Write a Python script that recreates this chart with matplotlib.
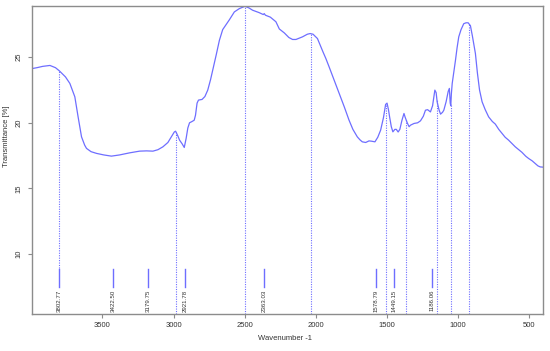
import numpy as np
import matplotlib
matplotlib.use("Agg")
import matplotlib.pyplot as plt

plt.rcParams["font.family"] = ["Liberation Sans", "DejaVu Sans"]

# FTIR spectrum
wavenumber = [4000, 3960, 3920, 3869, 3830, 3803, 3760, 3729, 3694, 3671, 3647, 3625,
              3612, 3580, 3542, 3490, 3437, 3380, 3309, 3239, 3190, 3145, 3110, 3075,
              3040, 3016, 2995, 2986, 2970, 2958, 2940, 2925, 2912, 2900, 2888, 2870,
              2855, 2846, 2835, 2825, 2800, 2780, 2760, 2740, 2725, 2700, 2678, 2655,
              2630, 2608, 2573, 2538, 2498, 2470, 2445, 2400, 2370, 2363, 2355, 2320,
              2281, 2257, 2222, 2190, 2164, 2140, 2094, 2060, 2040, 2020, 1989, 1977,
              1950, 1930, 1907, 1870, 1837, 1800, 1767, 1740, 1709, 1690, 1674, 1650,
              1627, 1610, 1585, 1565, 1545, 1525, 1510, 1500, 1490, 1482, 1470, 1459,
              1445, 1435, 1422, 1410, 1395, 1381, 1372, 1358, 1345, 1335, 1310, 1285,
              1265, 1245, 1230, 1215, 1195, 1180, 1164, 1155, 1148, 1135, 1124, 1110,
              1101, 1085, 1070, 1062, 1056, 1052, 1048, 1042, 1030, 1019, 1008, 996,
              980, 961, 945, 930, 914, 900, 879, 865, 850, 832, 810, 786, 760, 739,
              715, 692, 670, 646, 620, 599, 575, 552, 525, 505, 480, 459, 440, 424, 404]
transmittance = [24.12, 24.2, 24.3, 24.37, 24.2, 23.96, 23.5, 23.0, 21.98, 20.45, 18.93, 18.3,
                 18.05, 17.8, 17.67, 17.55, 17.46, 17.55, 17.71, 17.84, 17.86, 17.84, 17.95, 18.17,
                 18.5, 18.93, 19.3, 19.36, 19.0, 18.68, 18.4, 18.12, 18.8, 19.6, 20.0, 20.1,
                 20.2, 20.58, 21.5, 21.73, 21.78, 22.0, 22.49, 23.3, 24.0, 25.2, 26.29, 27.1,
                 27.5, 27.85, 28.45, 28.7, 28.88, 28.75, 28.58, 28.4, 28.25, 28.32, 28.2, 28.05,
                 27.7, 27.15, 26.85, 26.5, 26.35, 26.35, 26.55, 26.75, 26.8, 26.75, 26.42, 26.1,
                 25.4, 24.9, 24.26, 23.2, 22.24, 21.2, 20.2, 19.5, 18.93, 18.7, 18.55, 18.5,
                 18.62, 18.6, 18.55, 18.9, 19.44, 20.4, 21.4, 21.5, 21.0, 20.45, 19.7, 19.31,
                 19.5, 19.5, 19.3, 19.5, 20.2, 20.71, 20.4, 20.0, 19.7, 19.82, 19.95, 20.0,
                 20.15, 20.5, 20.96, 21.0, 20.83, 21.3, 22.49, 22.3, 21.6, 21.0, 20.66, 20.8,
                 20.96, 21.6, 22.4, 22.62, 21.5, 21.3, 22.2, 23.0, 23.9, 24.77, 25.7, 26.55,
                 27.1, 27.55, 27.62, 27.62, 27.4, 26.6, 25.28, 23.8, 22.5, 21.6, 21.0, 20.45, 20.1, 19.9,
                 19.5, 19.19, 18.9, 18.68, 18.4, 18.17, 17.95, 17.75, 17.45, 17.28, 17.1, 16.9, 16.72, 16.64, 16.62]

# dotted drop lines (maxima) and labelled peak markers
drop_positions = [3802.77, 2986, 2495, 2032, 1506, 1367, 1150, 1054, 925]
drop_bottoms = [8.93, 5.43, 5.43, 5.43, 5.43, 5.43, 5.43, 5.43, 5.43]
peak_positions = [3802.77, 3422.50, 3179.75, 2921.78, 2363.03, 1578.79, 1449.15, 1186.06]
peak_labels = ["3802.77", "3422.50", "3179.75", "2921.78", "2363.03", "1578.79", "1449.15", "1186.06"]

LINE_COLOR = "#6e6eff"
AXIS_COLOR = "#8c8c8c"

fig = plt.figure(figsize=(5.5, 3.51), dpi=100)
ax = fig.add_axes([32 / 550, 37 / 351, 511 / 550, 308 / 351])

ax.plot(wavenumber, transmittance, color=LINE_COLOR, linewidth=0.9)

for x, bottom in zip(drop_positions, drop_bottoms):
    top = np.interp(x, wavenumber[::-1], transmittance[::-1])
    ax.plot([x, x], [bottom, top], linestyle=(0, (1, 1.2)), color=LINE_COLOR, linewidth=0.8)

for x, label in zip(peak_positions, peak_labels):
    ax.plot([x, x], [7.46, 8.83], color=LINE_COLOR, linewidth=1.0)
    ax.text(x, 7.3, label, rotation=90, ha="center", va="top", fontsize=4.4, color="#333333")

ax.set_xlim(3995, 404)
ax.set_ylim(5.43, 28.9)
ax.set_xticks([3500, 3000, 2500, 2000, 1500, 1000, 500])
ax.set_yticks([10, 15, 20, 25])
ax.tick_params(axis="x", labelsize=5.5, colors=AXIS_COLOR, labelcolor="#333333", length=3, width=0.8, pad=3)
ax.tick_params(axis="y", labelsize=5.5, colors=AXIS_COLOR, labelcolor="#333333", length=3, width=0.8, pad=4)
for lab in ax.get_yticklabels():
    lab.set_rotation(90)
    lab.set_va("center")

for spine in ax.spines.values():
    spine.set_color(AXIS_COLOR)
    spine.set_linewidth(1.0)

fig.text(285 / 550, 1 - 339 / 351, "Wavenumber -1", ha="center", va="center", fontsize=5.5, color="#333333")
fig.text(7 / 550, 1 - 136 / 351, "Transmittance [%]", ha="center", va="center", rotation=90, fontsize=5.5, color="#333333")

fig.savefig("out.png", dpi=100)
